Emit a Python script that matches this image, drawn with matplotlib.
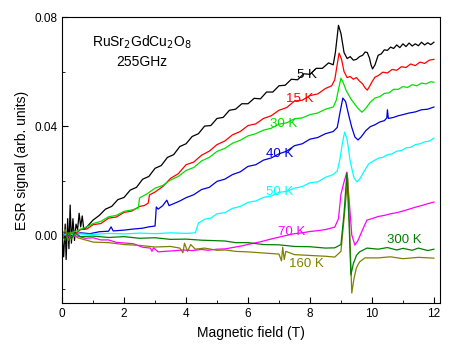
import matplotlib
matplotlib.use("Agg")
import matplotlib.pyplot as plt
from matplotlib.ticker import MultipleLocator, FormatStrFormatter

plt.rcParams['font.family'] = ['Liberation Sans', 'DejaVu Sans']

# ---- data ----
x_5K = [0, 0.05, 0.1, 0.13, 0.18, 0.22, 0.26, 0.3, 0.35, 0.4, 0.45, 0.5, 0.55, 0.6, 0.65, 0.7,
        0.8, 1.0, 1.2, 1.4, 1.6, 1.8, 2.0, 2.2, 2.4, 2.6, 2.8, 3.0, 3.2, 3.4, 3.6, 3.8, 4.0, 4.2, 4.4, 4.6, 4.8,
        5.0, 5.2, 5.4, 5.6, 5.8, 6.0, 6.2, 6.4, 6.6, 6.8, 7.0, 7.2, 7.4, 7.6, 7.8, 8.0, 8.2, 8.4, 8.6, 8.75,
        8.82, 8.92, 9.0, 9.1, 9.2, 9.3, 9.4, 9.5, 9.6, 9.7, 9.78, 9.85, 9.92, 9.97, 10.02, 10.1, 10.2, 10.3,
        10.4, 10.5, 10.6, 10.7, 10.8, 10.9, 11.0, 11.1, 11.2, 11.3, 11.4, 11.5, 11.6, 11.7, 11.8, 11.9, 12.0]
y_5K = [0.0, -0.008, 0.004, -0.009, 0.006, -0.005, 0.011, -0.003, 0.006, -0.002, 0.004, 0.002, 0.008, 0.003, 0.007, 0.002,
        0.003, 0.0055, 0.0072, 0.0095, 0.0105, 0.013, 0.0138, 0.0165, 0.0175, 0.0205, 0.0215, 0.0245, 0.0255, 0.0285, 0.0295, 0.0325, 0.0335, 0.0362, 0.0372, 0.040, 0.0402,
        0.0428, 0.0432, 0.0458, 0.0462, 0.0482, 0.0482, 0.0502, 0.0500, 0.0525, 0.0525, 0.0548, 0.0550, 0.0572, 0.0570, 0.0592, 0.059, 0.0612, 0.0612, 0.0632, 0.0625,
        0.067, 0.077, 0.074, 0.067, 0.0648, 0.0655, 0.0642, 0.0645, 0.0655, 0.066, 0.0672, 0.067, 0.065, 0.0625, 0.061, 0.0625, 0.066, 0.0665,
        0.068, 0.0678, 0.069, 0.0685, 0.0698, 0.0688, 0.0702, 0.0692, 0.0705, 0.0694, 0.0702, 0.0695, 0.0708, 0.0698, 0.0706, 0.0699, 0.0708]

x_15K = [0, 0.2, 0.4, 0.6, 0.8, 1.0, 1.25, 1.5, 1.75, 2.0, 2.25, 2.5, 2.65, 2.78, 2.82, 3.0, 3.25, 3.5, 3.75, 4.0, 4.25,
         4.5, 4.75, 5.0, 5.25, 5.5, 5.75, 6.0, 6.25, 6.5, 6.75, 7.0, 7.25, 7.5, 7.75, 8.0, 8.25, 8.5, 8.7, 8.8, 8.87,
         8.94, 9.02, 9.1, 9.2, 9.3, 9.4, 9.5, 9.6, 9.7, 9.78, 9.85, 9.92, 10.0, 10.1, 10.2, 10.35, 10.5, 10.65, 10.8,
         10.95, 11.1, 11.25, 11.4, 11.55, 11.7, 11.85, 12.0]
y_15K = [0.0, 0.0008, 0.0003, 0.002, 0.0022, 0.0038, 0.0042, 0.0062, 0.0066, 0.0083, 0.0088, 0.0105, 0.0108, 0.0117, 0.0147, 0.0158, 0.0178, 0.0208, 0.0225, 0.0258, 0.0268,
         0.0293, 0.0308, 0.0332, 0.0345, 0.0368, 0.038, 0.0402, 0.0408, 0.0428, 0.0438, 0.0458, 0.0468, 0.0492, 0.0495, 0.0512, 0.0518, 0.0538, 0.0548, 0.057, 0.062,
         0.0668, 0.0645, 0.060, 0.0578, 0.0582, 0.0572, 0.0578, 0.0565, 0.0555, 0.054, 0.0532, 0.0545, 0.0562, 0.058, 0.0585, 0.0598, 0.0595, 0.0608, 0.0605,
         0.0618, 0.0615, 0.0628, 0.0622, 0.0635, 0.063, 0.0642, 0.0645]

x_30K = [0, 0.2, 0.4, 0.6, 0.8, 1.0, 1.25, 1.5, 1.75, 2.0, 2.25, 2.46, 2.5, 2.75, 3.0, 3.25, 3.5, 3.75, 4.0, 4.25,
         4.5, 4.75, 5.0, 5.25, 5.5, 5.75, 6.0, 6.25, 6.5, 6.75, 7.0, 7.25, 7.5, 7.75, 8.0, 8.25, 8.5, 8.75, 8.85,
         8.93, 9.0, 9.08, 9.17, 9.25, 9.35, 9.45, 9.55, 9.68, 9.8, 9.95, 10.1, 10.25, 10.4, 10.55, 10.7, 10.85,
         11.0, 11.15, 11.3, 11.45, 11.6, 11.75, 11.9, 12.0]
y_30K = [0.0, 0.0005, 0.0012, 0.0022, 0.003, 0.0042, 0.005, 0.0067, 0.0072, 0.0087, 0.0092, 0.0099, 0.0136, 0.0152, 0.0172, 0.0182, 0.0202, 0.0215, 0.0237, 0.0248,
         0.0272, 0.0285, 0.0307, 0.0318, 0.0337, 0.0348, 0.0364, 0.0372, 0.0385, 0.0392, 0.0407, 0.0412, 0.0427, 0.043, 0.0442, 0.0448, 0.0462, 0.047, 0.0495,
         0.054, 0.0576, 0.0558, 0.053, 0.0514, 0.0495, 0.048, 0.0465, 0.0451, 0.0465, 0.0488, 0.0503, 0.0508, 0.052, 0.0522, 0.0535, 0.0535,
         0.0545, 0.0542, 0.0552, 0.0548, 0.0558, 0.0555, 0.0563, 0.0561]

x_40K = [0, 0.3, 0.6, 0.9, 1.2, 1.5, 1.58, 1.65, 2.0, 2.3, 2.6, 2.8, 3.0, 3.04, 3.1, 3.25, 3.38, 3.45, 3.6, 3.8,
         4.0, 4.25, 4.5, 4.75, 5.0, 5.25, 5.5, 5.75, 6.0, 6.25, 6.5, 6.75, 7.0, 7.25, 7.5, 7.75, 8.0, 8.25, 8.5,
         8.75, 8.88, 8.97, 9.06, 9.15, 9.25, 9.35, 9.45, 9.55, 9.65, 9.8, 9.95, 10.1, 10.25, 10.4, 10.48, 10.5,
         10.53, 10.7, 10.85, 11.0, 11.2, 11.4, 11.6, 11.8, 12.0]
y_40K = [0.0, 0.0002, 0.0008, 0.0005, 0.0012, 0.0014, 0.003, 0.0015, 0.0018, 0.0022, 0.0025, 0.003, 0.0033, 0.0103, 0.0095, 0.0108, 0.0128, 0.0108, 0.0115, 0.0125,
         0.0137, 0.0148, 0.0167, 0.0175, 0.0197, 0.0205, 0.0222, 0.0232, 0.0252, 0.0258, 0.0275, 0.0283, 0.0298, 0.0308, 0.0328, 0.0335, 0.0352, 0.0358, 0.0372,
         0.038, 0.0395, 0.045, 0.0503, 0.049, 0.044, 0.0395, 0.036, 0.0349, 0.036, 0.0383, 0.0398, 0.0405, 0.0415, 0.042, 0.043, 0.046,
         0.0428, 0.0432, 0.0438, 0.0442, 0.0448, 0.0452, 0.046, 0.0462, 0.047]

x_50K = [0, 0.5, 1.0, 1.5, 2.0, 2.5, 3.0, 3.5, 4.0, 4.3, 4.4, 4.6, 4.8, 5.0, 5.25, 5.5, 5.75, 6.0, 6.25, 6.5,
         6.75, 7.0, 7.25, 7.5, 7.75, 8.0, 8.25, 8.5, 8.75, 8.88, 8.97, 9.05, 9.12, 9.2, 9.3, 9.42, 9.52, 9.62,
         9.75, 9.9, 10.05, 10.2, 10.35, 10.5, 10.65, 10.8, 10.95, 11.1, 11.25, 11.4, 11.55, 11.7, 11.85, 12.0]
y_50K = [0.0, 0.0004, 0.0002, 0.0006, 0.0004, 0.0007, 0.0005, 0.0008, 0.0006, 0.0008, 0.0044, 0.0058, 0.0062, 0.0078, 0.0082, 0.0098, 0.0105, 0.012, 0.0125, 0.0138,
         0.0143, 0.0157, 0.016, 0.0172, 0.0178, 0.0192, 0.0195, 0.0212, 0.0222, 0.0235, 0.028, 0.034, 0.0378, 0.035, 0.027, 0.021, 0.0195, 0.0208,
         0.0235, 0.0262, 0.0272, 0.0282, 0.0285, 0.0295, 0.0298, 0.0308, 0.031, 0.032, 0.0322, 0.0332, 0.0335, 0.0342, 0.0345, 0.0356]

x_70K = [0, 0.25, 0.5, 0.75, 1.0, 1.25, 1.5, 1.75, 2.1, 2.3, 2.6, 2.85, 2.9, 2.95, 3.1, 3.3, 3.6, 3.9, 4.2, 4.5,
         4.7, 5.0, 5.26, 5.5, 5.8, 6.1, 6.4, 6.7, 7.03, 7.3, 7.5, 7.75, 8.0, 8.25, 8.5, 8.8, 8.92, 9.0, 9.1, 9.19,
         9.27, 9.35, 9.45, 9.55, 9.7, 9.84, 10.0, 10.2, 10.4, 10.6, 10.8, 11.0, 11.2, 11.4, 11.6, 11.8, 12.0]
y_70K = [0.0, -0.0006, -0.0004, -0.0012, -0.001, -0.0018, -0.0018, -0.0027, -0.003, -0.0032, -0.0045, -0.0048, -0.006, -0.0047, -0.0062, -0.006, -0.0058, -0.0055, -0.0057, -0.0053,
         -0.0056, -0.0052, -0.0051, -0.0046, -0.004, -0.0032, -0.0025, -0.0016, -0.0007, 0.0, 0.0005, 0.0008, 0.0013, 0.0016, 0.002, 0.0029, 0.006, 0.015, 0.0195, 0.0231,
         0.012, 0.0, -0.0037, -0.002, 0.002, 0.0055, 0.006, 0.0068, 0.0072, 0.0078, 0.0082, 0.0088, 0.0095, 0.0102, 0.0108, 0.0115, 0.0121]

x_160K = [0, 0.1, 0.2, 0.3, 0.5, 0.75, 1.0, 1.5, 2.0, 2.5, 3.0, 3.5, 3.8, 3.9, 3.95, 4.05, 4.15, 4.3, 4.6, 5.0,
          5.26, 5.6, 6.0, 6.5, 7.0, 7.08, 7.12, 7.17, 7.22, 7.5, 8.0, 8.5, 8.8, 9.0, 9.1, 9.22, 9.28, 9.35, 9.42,
          9.5, 9.6, 9.77, 10.2, 10.6, 11.0, 11.5, 12.0]
y_160K = [0.0, 0.002, -0.002, 0.001, -0.001, -0.0018, -0.0026, -0.0028, -0.0035, -0.0038, -0.0044, -0.0042, -0.0048, -0.0065, -0.003, -0.006, -0.0035, -0.0052, -0.0048, -0.0056,
          -0.0055, -0.006, -0.0062, -0.0066, -0.007, -0.0095, -0.0045, -0.009, -0.006, -0.0072, -0.0075, -0.0078, -0.0081, -0.006, 0.006, 0.021, 0.002, -0.0213, -0.016,
          -0.012, -0.0099, -0.0084, -0.0084, -0.008, -0.0087, -0.0082, -0.0085]

x_300K = [0, 0.1, 0.2, 0.3, 0.4, 0.6, 1.0, 1.5, 2.0, 2.5, 3.0, 3.5, 4.0, 4.5, 5.26, 5.6, 6.0, 6.5, 7.0, 7.5,
          8.0, 8.5, 8.8, 9.0, 9.1, 9.19, 9.26, 9.32, 9.4, 9.5, 9.6, 9.84, 10.2, 10.5, 10.8, 11.0, 11.3, 11.5, 11.8, 12.0]
y_300K = [0.0, -0.002, 0.001, -0.0015, 0.0008, -0.0006, -0.0004, -0.0009, -0.0006, -0.0012, -0.001, -0.0016, -0.0015, -0.0019, -0.0022, -0.0028, -0.0028, -0.0035, -0.0036, -0.0042,
          -0.0043, -0.0048, -0.0047, -0.0035, 0.008, 0.0227, 0.005, -0.0147, -0.0105, -0.0075, -0.0062, -0.0048, -0.0052, -0.0046, -0.0055, -0.0049, -0.0056, -0.0048, -0.0057, -0.0052]

series = [
    (x_5K, y_5K, 'black', '5 K', 7.9, 0.0587),
    (x_15K, y_15K, 'red', '15 K', 7.68, 0.050),
    (x_30K, y_30K, '#00e000', '30 K', 7.16, 0.0407),
    (x_40K, y_40K, '#0000dd', '40 K', 7.03, 0.0297),
    (x_50K, y_50K, 'cyan', '50 K', 7.03, 0.0158),
    (x_70K, y_70K, 'magenta', '70 K', 7.42, 0.0011),
    (x_160K, y_160K, '#808000', '160 K', 7.87, -0.0106),
    (x_300K, y_300K, '#008000', '300 K', 11.03, -0.0018),
]

fig = plt.figure(figsize=(4.5, 3.5), dpi=100)
ax = fig.add_axes([0.138, 0.134, 0.840, 0.817])

for xs, ys, c, lab, lx, ly in series:
    ax.plot(xs, ys, color=c, lw=0.9)
    ax.text(lx, ly, lab, color=c, fontsize=9.5, ha='center', va='center')

ax.text(2.58, 0.0708, r'RuSr$_2$GdCu$_2$O$_8$', fontsize=10, ha='center', va='center')
ax.text(2.58, 0.0635, '255GHz', fontsize=10, ha='center', va='center')

ax.set_xlim(0, 12.2)
ax.set_ylim(-0.025, 0.08)
ax.xaxis.set_major_locator(MultipleLocator(2))
ax.xaxis.set_minor_locator(MultipleLocator(1))
ax.yaxis.set_major_locator(MultipleLocator(0.04))
ax.yaxis.set_minor_locator(MultipleLocator(0.02))
ax.yaxis.set_major_formatter(FormatStrFormatter('%.2f'))
ax.tick_params(which='both', direction='in', labelsize=8.5)
ax.tick_params(which='major', length=4)
ax.tick_params(which='minor', length=2.5)
ax.set_xlabel('Magnetic field (T)', fontsize=10)
ax.set_ylabel('ESR signal (arb. units)', fontsize=10)

fig.savefig('out.png', dpi=100)
